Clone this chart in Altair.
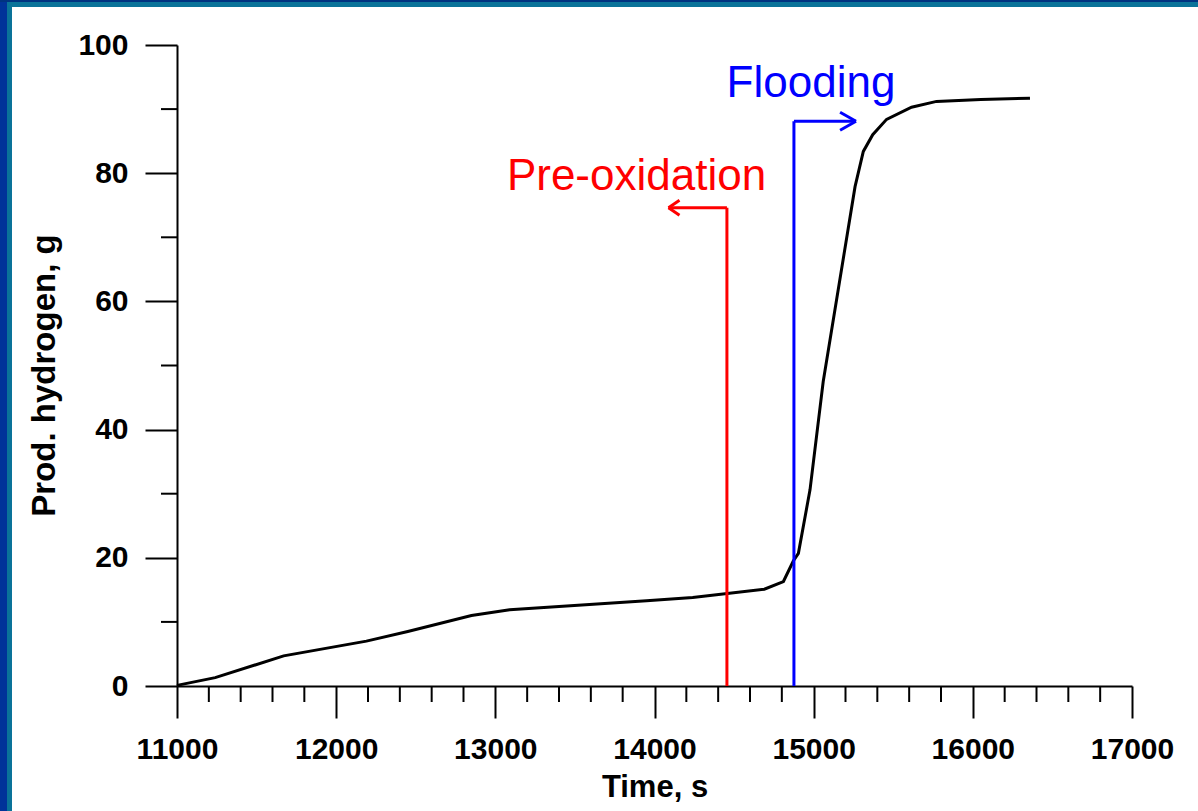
import altair as alt
import pandas as pd

# ---- data ----
time_s = [11000, 11240, 11670, 12190, 12450, 12850, 13090, 13950, 14240, 14690,
          14810, 14872, 14904, 14977, 15060, 15260, 15312, 15371, 15458, 15615,
          15772, 16050, 16359]
hydrogen_g = [0.1, 1.3, 4.7, 7.0, 8.5, 11.0, 11.9, 13.3, 13.8, 15.1,
              16.3, 19.5, 20.7, 30.6, 47.5, 77.9, 83.4, 86.0, 88.4, 90.3,
              91.2, 91.5, 91.7]

x_major = [11000, 12000, 13000, 14000, 15000, 16000, 17000]
y_major = [0, 20, 40, 60, 80, 100]
x_minor = [v for v in range(11200, 17000, 200) if v % 1000 != 0]
y_minor = [10, 30, 50, 70, 90]

# annotation markers (time, hydrogen)
preox_t, preox_top, preox_tip = 14455, 74.6, 14088
flood_t, flood_top, flood_tip = 14876, 88.1, 15266
labels_text = ["Pre-oxidation", "Flooding"]
labels_t = [13887, 14983]
labels_h = [77.4, 91.9]
labels_col = ["#ff0000", "#0000ff"]

W, H = 955, 641
FONT = "Liberation Sans"

curve = pd.DataFrame({"t": time_s, "h": hydrogen_g})

# arrow arm sizes in data units
red_dx, red_dy = 69, 1.17
blue_dx, blue_dy = 100, 1.4
segs = pd.DataFrame({
    "t":  [preox_t, preox_t, preox_tip, preox_tip, flood_t, flood_t, flood_tip, flood_tip],
    "h":  [0, preox_top, preox_top, preox_top, 0, flood_top, flood_top, flood_top],
    "t2": [preox_t, preox_tip, preox_tip + red_dx, preox_tip + red_dx,
           flood_t, flood_tip, flood_tip - blue_dx, flood_tip - blue_dx],
    "h2": [preox_top, preox_top, preox_top + red_dy, preox_top - red_dy,
           flood_top, flood_top, flood_top + blue_dy, flood_top - blue_dy],
    "c":  ["#ff0000"] * 4 + ["#0000ff"] * 4,
})
texts = pd.DataFrame({"t": labels_t, "h": labels_h, "label": labels_text, "c": labels_col})

xscale = alt.Scale(domain=[11000, 17000], nice=False, zero=False)
yscale = alt.Scale(domain=[0, 100], nice=False)

xaxis = alt.Axis(values=x_major, format="d", tickSize=32, tickWidth=2, domainWidth=2,
                 tickColor="black", domainColor="black", labelColor="black",
                 labelFont=FONT, labelFontSize=30, labelFontWeight="bold",
                 labelPadding=16, labelFlush=False, labelOverlap=False,
                 grid=False, title="Time, s",
                 titleFont=FONT, titleFontSize=31, titleFontWeight="bold",
                 titleColor="black", titlePadding=8)
yaxis = alt.Axis(values=y_major, tickSize=32, tickWidth=2, domainWidth=2,
                 tickColor="black", domainColor="black", labelColor="black",
                 labelFont=FONT, labelFontSize=30, labelFontWeight="bold",
                 labelPadding=17, labelFlush=False, labelOverlap=False,
                 grid=False, title="Prod. hydrogen, g",
                 titleFont=FONT, titleFontSize=33, titleFontWeight="bold",
                 titleColor="black", titlePadding=16, titleY=330)

line = alt.Chart(curve).mark_line(color="black", strokeWidth=3).encode(
    x=alt.X("t:Q", scale=xscale, axis=xaxis),
    y=alt.Y("h:Q", scale=yscale, axis=yaxis),
)

arrows = alt.Chart(segs).mark_rule(strokeWidth=3).encode(
    x="t:Q", y="h:Q", x2="t2:Q", y2="h2:Q",
    color=alt.Color("c:N", scale=None),
)

labels = alt.Chart(texts).mark_text(font=FONT, fontSize=44, baseline="alphabetic",
                                    align="center").encode(
    x="t:Q", y="h:Q", text="label:N", color=alt.Color("c:N", scale=None),
)

xminor = alt.Chart(pd.DataFrame({"t": x_minor})).mark_rule(color="black", strokeWidth=2).encode(
    x="t:Q", y=alt.value(H), y2=alt.value(H + 16),
)
yminor = alt.Chart(pd.DataFrame({"h": y_minor})).mark_rule(color="black", strokeWidth=2).encode(
    y="h:Q", x=alt.value(0), x2=alt.value(-16),
)

one = pd.DataFrame({"a": [0]})
PL, PT = 177, 45
frame = [
    alt.Chart(one).mark_rect(color="#003399").encode(
        x=alt.value(-PL), x2=alt.value(-PL + 7), y=alt.value(-PT), y2=alt.value(811 - PT)),
    alt.Chart(one).mark_rect(color="#0a7399").encode(
        x=alt.value(-PL + 7), x2=alt.value(-PL + 12), y=alt.value(-PT + 2), y2=alt.value(811 - PT)),
    alt.Chart(one).mark_rect(color="#003380").encode(
        x=alt.value(-PL), x2=alt.value(1198 - PL), y=alt.value(-PT), y2=alt.value(-PT + 2)),
    alt.Chart(one).mark_rect(color="#0a7399").encode(
        x=alt.value(-PL + 7), x2=alt.value(1198 - PL), y=alt.value(-PT + 2), y2=alt.value(-PT + 7)),
]

chart = alt.layer(line, xminor, yminor, arrows, labels, *frame).properties(
    width=W, height=H,
    autosize=alt.AutoSizeParams(type="none"),
    padding={"left": PL, "top": PT, "right": 1198 - PL - W, "bottom": 811 - PT - H},
    background="white",
).configure_view(stroke=None)

chart.save("out.html", embed_options={"renderer": "svg", "actions": False})
